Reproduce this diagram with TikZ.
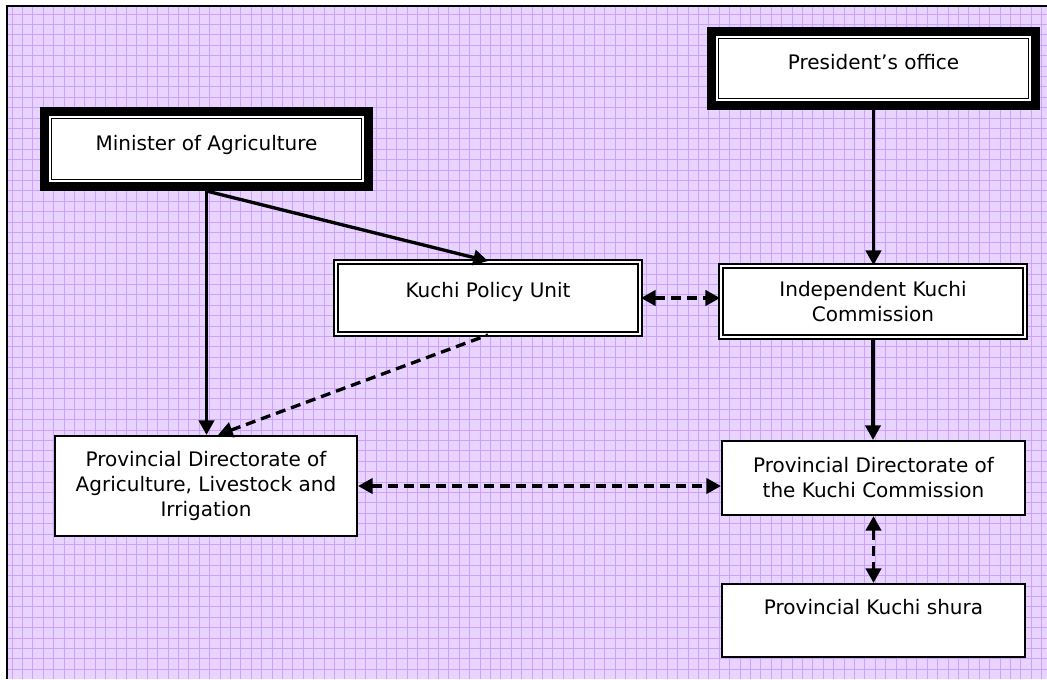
\documentclass[tikz,border=0pt]{standalone}
\usepackage{fontspec}
\setmainfont{DejaVu Sans}
\usetikzlibrary{arrows.meta,calc}

\definecolor{paper}{RGB}{232,212,255}
\definecolor{gridpurple}{RGB}{205,162,252}

\begin{document}
\begin{tikzpicture}[
        x=0.75pt, y=-0.75pt,
        >={Triangle[length=11pt,width=11.5pt]},
        every node/.style={font=\fontsize{15pt}{18.75pt}\selectfont, align=center},
        top box/.style={draw, fill=white, line width=6.75pt,
            path picture={\draw[line width=1.1pt]
                ([shift={(5.2pt,-5.2pt)}]path picture bounding box.north west) rectangle
                ([shift={(-5.2pt,5.2pt)}]path picture bounding box.south east);}},
        unit box/.style={draw, fill=white, line width=1.4pt, double=white,
            double distance=1.4pt},
        plain box/.style={draw, fill=white, line width=1.6pt},
        link/.style={line width=2.5pt, ->},
        dashed link/.style={line width=2.5pt, <->, dash pattern=on 7.5pt off 4.5pt},
        grid line/.style={gridpurple, line width=0.6pt},
    ]

    \useasboundingbox (0,0) rectangle (1047,679);

    % background sheet
    \fill[paper] (7,6) rectangle (1047,679);
    \foreach \gx in {12,22.4,...,1047} \draw[grid line] (\gx,6) -- (\gx,679);
    \foreach \gy in {14,24.4,...,679} \draw[grid line] (7,\gy) -- (1047,\gy);
    \draw[line width=1.5pt] (7,679) -- (7,6) -- (1047,6);

    % boxes
    \node[top box, minimum width=243pt, minimum height=56.25pt, text depth=9.4pt]
        (min) at (206.5,149) {Minister of Agriculture};
    \node[top box, minimum width=243pt, minimum height=55.5pt, text depth=10.2pt]
        (pres) at (873.5,68.5) {President’s office};

    \node[unit box, minimum width=228pt, minimum height=54pt, text depth=12.4pt]
        (kpu) at (488,298) {Kuchi Policy Unit};
    \node[unit box, minimum width=228pt, minimum height=53.25pt]
        (ikc) at (873,301.5) {Independent Kuchi\\Commission};

    \node[plain box, minimum width=226.5pt, minimum height=75pt]
        (pda) at (206,486) {Provincial Directorate of\\Agriculture, Livestock and\\Irrigation};
    \node[plain box, minimum width=227.25pt, minimum height=55.5pt]
        (pkc) at (873.5,478) {Provincial Directorate of\\the Kuchi Commission};
    \node[plain box, minimum width=227.25pt, minimum height=54.75pt, text depth=20.6pt]
        (shura) at (873.5,620.5) {Provincial Kuchi shura};

    % solid links
    \draw[link] (min.south) -- (min.south |- pda.north);
    \draw[link] (min.south) -- (kpu.north);
    \draw[link] (pres.south) -- (pres.south |- ikc.north);
    \draw[link] (ikc.south) -- (ikc.south |- pkc.north);

    % dashed links
    \draw[dashed link, <-] ([xshift=9pt]pda.north) -- (kpu.south);
    \draw[dashed link] (kpu.east) -- (kpu.east -| ikc.west);
    \draw[dashed link] (pda.east) -- (pda.east -| pkc.west);
    \draw[dashed link] (pkc.south) -- (pkc.south |- shura.north);

\end{tikzpicture}
\end{document}
